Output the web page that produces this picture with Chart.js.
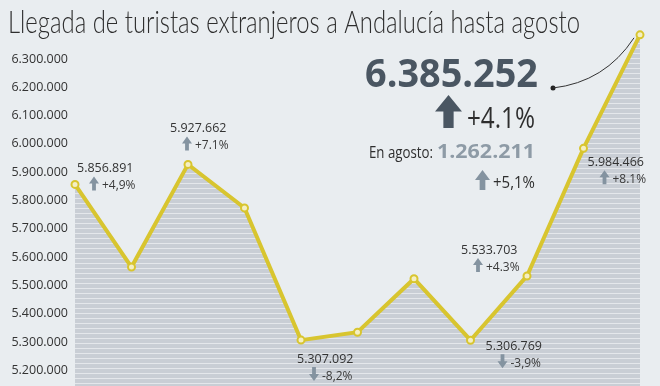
<!DOCTYPE html>
<html>
<head>
<meta charset="utf-8">
<script src="https://cdn.jsdelivr.net/npm/chart.js@4.4.1/dist/chart.umd.min.js"></script>
<style>
  html, body { margin: 0; padding: 0; background: #e9edf0; }
  #wrap { width: 660px; height: 386px; position: relative; }
</style>
</head>
<body>
<div id="wrap"><canvas id="chart"></canvas></div>
<script>
// ---- data ----
const years = ['2006', '2007', '2008', '2009', '2010', '2011', '2012', '2013', '2014', '2015', '2016'];
const tourists = [5856891, 5565000, 5927662, 5774000, 5307092, 5335000, 5524000, 5306769, 5533703, 5984466, 6385252];
const yTicks = [5200000, 5300000, 5400000, 5500000, 5600000, 5700000, 5800000, 5900000, 6000000, 6100000, 6200000, 6300000];

// labelled points and their year-on-year change
const labelIdx = [0, 2, 4, 7, 8, 9];
const labelChange = ['+4,9%', '+7.1%', '-8,2%', '-3,9%', '+4.3%', '+8.1%'];

const titleText = 'Llegada de turistas extranjeros a Andalucía hasta agosto';
const totalChange = '+4.1%';
const augustLabel = 'En agosto:';
const augustValue = 1262211;
const augustChange = '+5,1%';

// label placement relative to its point (dx, dy of the number's baseline)
const labelOffset = [[2, -12], [-18, -32], [-4, 23], [15, 10], [-66, -22], [4, 18]];

const BG = '#e9edf0';
const LINE = '#d8c52f';
const ARROW = '#8493a0';
const DARK = '#4a5662';

function fmt(n) {
  return n.toString().replace(/\B(?=(\d{3})+(?!\d))/g, '.');
}

// text with optional horizontal squeeze (the original uses a condensed face)
function drawText(ctx, text, x, y, font, color, opts) {
  opts = opts || {};
  ctx.save();
  ctx.font = font;
  ctx.fillStyle = color;
  ctx.textBaseline = 'alphabetic';
  ctx.textAlign = 'left';
  const w = ctx.measureText(text).width;
  let sx = opts.sx || 1;
  if (opts.width) sx = opts.width / w;
  ctx.translate(x, y);
  ctx.scale(sx, 1);
  ctx.fillText(text, 0, 0);
  ctx.restore();
}

function drawArrow(ctx, x, y, w, h, up, color) {
  const head = h * 0.5;
  const stem = w * 0.38;
  const cx = x + w / 2;
  ctx.save();
  ctx.fillStyle = color;
  ctx.beginPath();
  if (up) {
    ctx.moveTo(cx, y);
    ctx.lineTo(x + w, y + head);
    ctx.lineTo(cx + stem / 2, y + head);
    ctx.lineTo(cx + stem / 2, y + h);
    ctx.lineTo(cx - stem / 2, y + h);
    ctx.lineTo(cx - stem / 2, y + head);
    ctx.lineTo(x, y + head);
  } else {
    ctx.moveTo(cx, y + h);
    ctx.lineTo(x + w, y + h - head);
    ctx.lineTo(cx + stem / 2, y + h - head);
    ctx.lineTo(cx + stem / 2, y);
    ctx.lineTo(cx - stem / 2, y);
    ctx.lineTo(cx - stem / 2, y + h - head);
    ctx.lineTo(x, y + h - head);
  }
  ctx.closePath();
  ctx.fill();
  ctx.restore();
}

function stripePattern(ctx) {
  const c = document.createElement('canvas');
  c.width = 4; c.height = 5;
  const p = c.getContext('2d');
  p.fillStyle = '#c9ced5';
  p.fillRect(0, 0, 4, 5);
  p.fillStyle = '#e4e7eb';
  p.fillRect(0, 3, 4, 1);
  return ctx.createPattern(c, 'repeat');
}

const backgroundPlugin = {
  id: 'bg',
  beforeDraw(chart) {
    const ctx = chart.ctx;
    ctx.save();
    ctx.fillStyle = BG;
    ctx.fillRect(0, 0, chart.width, chart.height);
    ctx.restore();
  }
};

const annotationPlugin = {
  id: 'notes',
  afterDatasetsDraw(chart) {
    const ctx = chart.ctx;
    const pts = chart.getDatasetMeta(0).data;

    // title
    drawText(ctx, titleText, 8, 33, '300 32px Lato', '#2e2e2e', { width: 572 });

    // point labels
    labelIdx.forEach((idx, i) => {
      const p = pts[idx];
      const x = p.x + labelOffset[i][0];
      const y = p.y + labelOffset[i][1];
      const up = labelChange[i][0] === '+';
      drawText(ctx, fmt(tourists[idx]), x, y, '13px "Open Sans"', '#333', { sx: 0.96 });
      drawArrow(ctx, x + 12, y + 4, 10, 14, up, ARROW);
      drawText(ctx, labelChange[i], x + 25, y + 17, '13px "Open Sans"', '#3a3a3a', { sx: 0.92 });
    });

    // big callout for the latest year
    const last = pts[pts.length - 1];
    drawText(ctx, fmt(tourists[tourists.length - 1]), 365, 87, 'bold 40px "Open Sans"', DARK, { width: 173 });
    ctx.save();
    ctx.fillStyle = '#222';
    ctx.beginPath();
    ctx.arc(553, 88, 2.5, 0, Math.PI * 2);
    ctx.fill();
    ctx.strokeStyle = '#333';
    ctx.lineWidth = 1;
    ctx.beginPath();
    ctx.moveTo(553, 88);
    ctx.quadraticCurveTo(605, 82, last.x - 6, last.y + 3);
    ctx.stroke();
    ctx.restore();

    drawArrow(ctx, 435, 95, 27, 33, true, DARK);
    drawText(ctx, totalChange, 467, 128, '29px "Open Sans"', '#2e2e2e', { width: 68 });

    drawText(ctx, augustLabel, 369, 158, '17px "Open Sans"', '#2e2e2e', { width: 64 });
    drawText(ctx, fmt(augustValue), 437, 158, 'bold 20px "Open Sans"', '#8e9ba6', { width: 98 });
    drawArrow(ctx, 475, 170, 15, 20, true, ARROW);
    drawText(ctx, augustChange, 493, 188, '17px "Open Sans"', '#2e2e2e', { width: 42 });
  }
};

const canvas = document.getElementById('chart');
canvas.width = 660;
canvas.height = 386;
const ctx = canvas.getContext('2d');

new Chart(ctx, {
  type: 'line',
  data: {
    labels: years,
    datasets: [{
      data: tourists,
      borderColor: LINE,
      borderWidth: 4,
      backgroundColor: stripePattern(ctx),
      fill: 'start',
      tension: 0,
      pointRadius: 3.5,
      pointBorderWidth: 2,
      pointBorderColor: LINE,
      pointBackgroundColor: '#f4efc4'
    }]
  },
  options: {
    responsive: false,
    animation: false,
    devicePixelRatio: 1,
    layout: {
      autoPadding: false,
      padding: { left: 10, right: 20, top: 25, bottom: 0 }
    },
    plugins: {
      legend: { display: false },
      tooltip: { enabled: false },
      title: { display: false }
    },
    scales: {
      x: {
        type: 'category',
        display: false,
        offset: false
      },
      y: {
        min: 5145000,
        max: 6420000,
        afterFit(scale) {
          scale.width = 65;
          scale.paddingTop = 0;
          scale.paddingBottom = 0;
        },
        afterBuildTicks(scale) { scale.ticks = yTicks.map(v => ({ value: v })); },
        grid: { display: false, drawTicks: false },
        border: { display: false },
        ticks: {
          padding: 7,
          color: '#333',
          font: { family: 'Open Sans', size: 12.5 },
          callback: value => fmt(value)
        }
      }
    }
  },
  plugins: [backgroundPlugin, annotationPlugin]
});
</script>
</body>
</html>
